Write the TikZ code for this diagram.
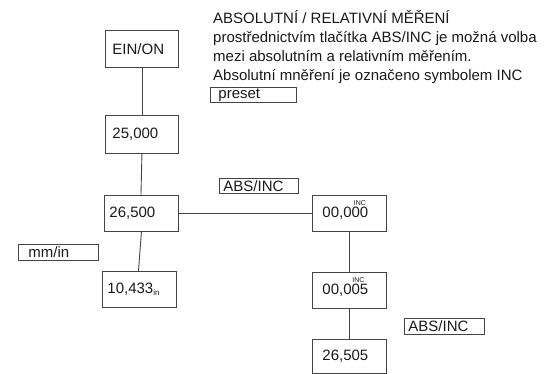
\documentclass[tikz,border=0pt]{standalone}
\usepackage{fontspec}
\setmainfont{Liberation Sans}
\definecolor{linec}{HTML}{444444}
\definecolor{textc}{HTML}{1A1A1A}
\begin{document}
\begin{tikzpicture}[x=1pt,y=-1pt,
  every node/.style={font=\fontsize{15}{18}\selectfont, text=textc},
  box/.style={draw=linec, line width=0.9pt, anchor=north west, align=left,
    inner xsep=7pt, text width=59pt, minimum height=36pt},
  zbox/.style={box, inner xsep=10pt, text width=54pt},
  lab/.style={draw=linec, line width=0.9pt, anchor=north west, align=left,
    inner ysep=0pt, text height=11pt, text depth=0pt, minimum height=15pt},
  small/.style={font=\fontsize{7}{8}\selectfont, inner sep=0pt},
  conn/.style={draw=linec, line width=0.9pt},
  txt/.style={anchor=base west, inner sep=0pt}]
\useasboundingbox (0,0) rectangle (545,373);

% text block
\node[txt] (t1) at (213,23) {ABSOLUTNÍ / RELATIVNÍ MĚŘENÍ};
\node[txt] (t2) at (213,42) {prostřednictvím tlačítka ABS/INC je možná volba};
\node[txt] (t3) at (213,61) {mezi absolutním a relativním měřením.};
\node[txt] (t4) at (213,80) {Absolutní mněření je označeno symbolem INC};
\node[lab, inner xsep=8pt, text width=70pt, text depth=2pt, text height=9pt] (preset) at (210,87) {preset};

% left column
\node[box, minimum height=37pt] (ein) at (105,30) {EIN/ON};
\node[box, minimum height=38pt] (v25) at (105,115) {25,000};
\node[box, inner xsep=5pt, text width=64pt] (v265) at (104,195) {26,500};
\node[box, inner xsep=5pt, text width=64pt] (v10) at (102,271) {10,433\raisebox{-1.5pt}{\fontsize{8}{8}\selectfont in}};

% right column
\node[zbox] (z0) at (312,195) {\raisebox{-3pt}{00,000}};
\node[small] (inc0) at (360,203) {INC};
\node[zbox] (z5) at (312,272) {\raisebox{-3pt}{00,005}};
\node[small] (inc5) at (358.5,280) {INC};
\node[zbox, minimum height=34pt] (r) at (312,339) {\raisebox{-2pt}{26,505}};

% labels
\node[lab, inner xsep=4pt, text width=71pt] (absinc1) at (219,178) {ABS/INC};
\node[lab, inner xsep=10pt, text width=60pt, minimum height=16pt] (mmin) at (18,244) {mm/in};
\node[lab, inner xsep=4pt, text width=72pt, minimum height=16pt] (absinc2) at (404,318) {ABS/INC};

% connectors
\draw[conn] (ein.south) -- (v25.north);
\draw[conn] (v25.south) -- ([xshift=-0.5pt]v265.north);
\draw[conn] (v265.east) -- (v265.east -| z0.west);
\draw[conn] (v265.south) -- ([xshift=-1pt]v10.north);
\draw[conn] (z0.south) -- (z5.north);
\draw[conn] (z5.south) -- (r.north);
\end{tikzpicture}
\end{document}
